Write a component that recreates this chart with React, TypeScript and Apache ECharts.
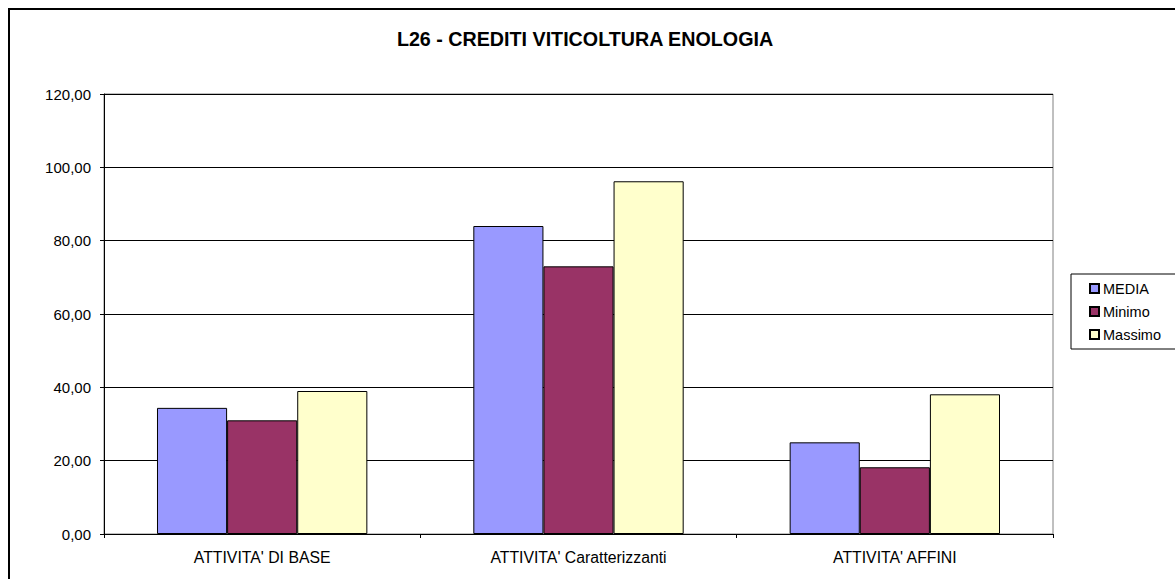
import React, { useEffect, useRef } from "react";
import * as echarts from "echarts";

const categories = ["ATTIVITA' DI BASE", "ATTIVITA' Caratterizzanti", "ATTIVITA' AFFINI"];
const seriesNames = ["MEDIA", "Minimo", "Massimo"];
const media = [34.4, 84.0, 25.0];
const minimo = [31.0, 73.0, 18.2];
const massimo = [39.0, 96.2, 38.1];
const seriesColors = ["#9999FF", "#993366", "#FFFFCC"];
const titleText = "L26 - CREDITI VITICOLTURA ENOLOGIA";

export default function App() {
  const ref = useRef<HTMLDivElement>(null);
  useEffect(() => {
    if (!ref.current) return;
    const chart = echarts.init(ref.current, undefined, { renderer: "svg" });
    const values = [media, minimo, massimo];
    const font = "'Liberation Sans', Arial, sans-serif";
    chart.setOption({
      animation: false,
      backgroundColor: "#ffffff",
      textStyle: { fontFamily: font },
      graphic: [
        {
          type: "rect",
          shape: { x: 9, y: 9, width: 1300, height: 700 },
          style: { fill: "none", stroke: "#000", lineWidth: 2 },
          silent: true,
          z: 100,
        },
        {
          type: "text",
          x: 585,
          y: 39,
          style: {
            text: titleText,
            fontFamily: font,
            fontSize: 19.7,
            fontWeight: "bold",
            fill: "#000",
            align: "center",
            verticalAlign: "middle",
          },
        },
      ],
      legend: {
        orient: "vertical",
        left: 1071,
        top: 274,
        itemWidth: 9,
        itemHeight: 9,
        itemGap: 8,
        padding: [7, 20, 7, 18],
        borderColor: "#000",
        borderWidth: 1,
        backgroundColor: "#fff",
        icon: "rect",
        textStyle: { fontFamily: font, fontSize: 14.5, color: "#000", lineHeight: 15, padding: [0, 0, 0, -1] },
        data: seriesNames,
      },
      grid: {
        left: 104,
        right: 122,
        top: 94,
        bottom: 45,
        show: true,
        borderColor: "#808080",
        borderWidth: 1,
        containLabel: false,
      },
      xAxis: {
        type: "category",
        data: categories,
        axisLine: { lineStyle: { color: "#000", width: 1 } },
        axisTick: { show: true, length: 4, lineStyle: { color: "#000" }, alignWithLabel: false },
        axisLabel: { fontFamily: font, fontSize: 15.8, color: "#000", margin: 15 },
        splitLine: { show: false },
      },
      yAxis: {
        type: "value",
        min: 0,
        max: 120,
        interval: 20,
        axisLine: { show: true, lineStyle: { color: "#000", width: 1 } },
        axisTick: { show: true, length: 4, lineStyle: { color: "#000" } },
        axisLabel: {
          fontFamily: font,
          fontSize: 15,
          color: "#000",
          margin: 13,
          formatter: (v: number) => v.toFixed(2).replace(".", ","),
        },
        splitLine: { show: true, lineStyle: { color: "#000", width: 1 } },
      },
      series: seriesNames.map((name, i) => ({
        name,
        type: "bar",
        data: values[i],
        barGap: "0%",
        barCategoryGap: "33.5%",
        itemStyle: { color: seriesColors[i], borderColor: "#000", borderWidth: 1 },
      })),
    });
    return () => chart.dispose();
  }, []);
  return (
    <div
      ref={ref}
      style={{ position: "fixed", left: 0, top: 0, width: 1175, height: 579 }}
    />
  );
}
